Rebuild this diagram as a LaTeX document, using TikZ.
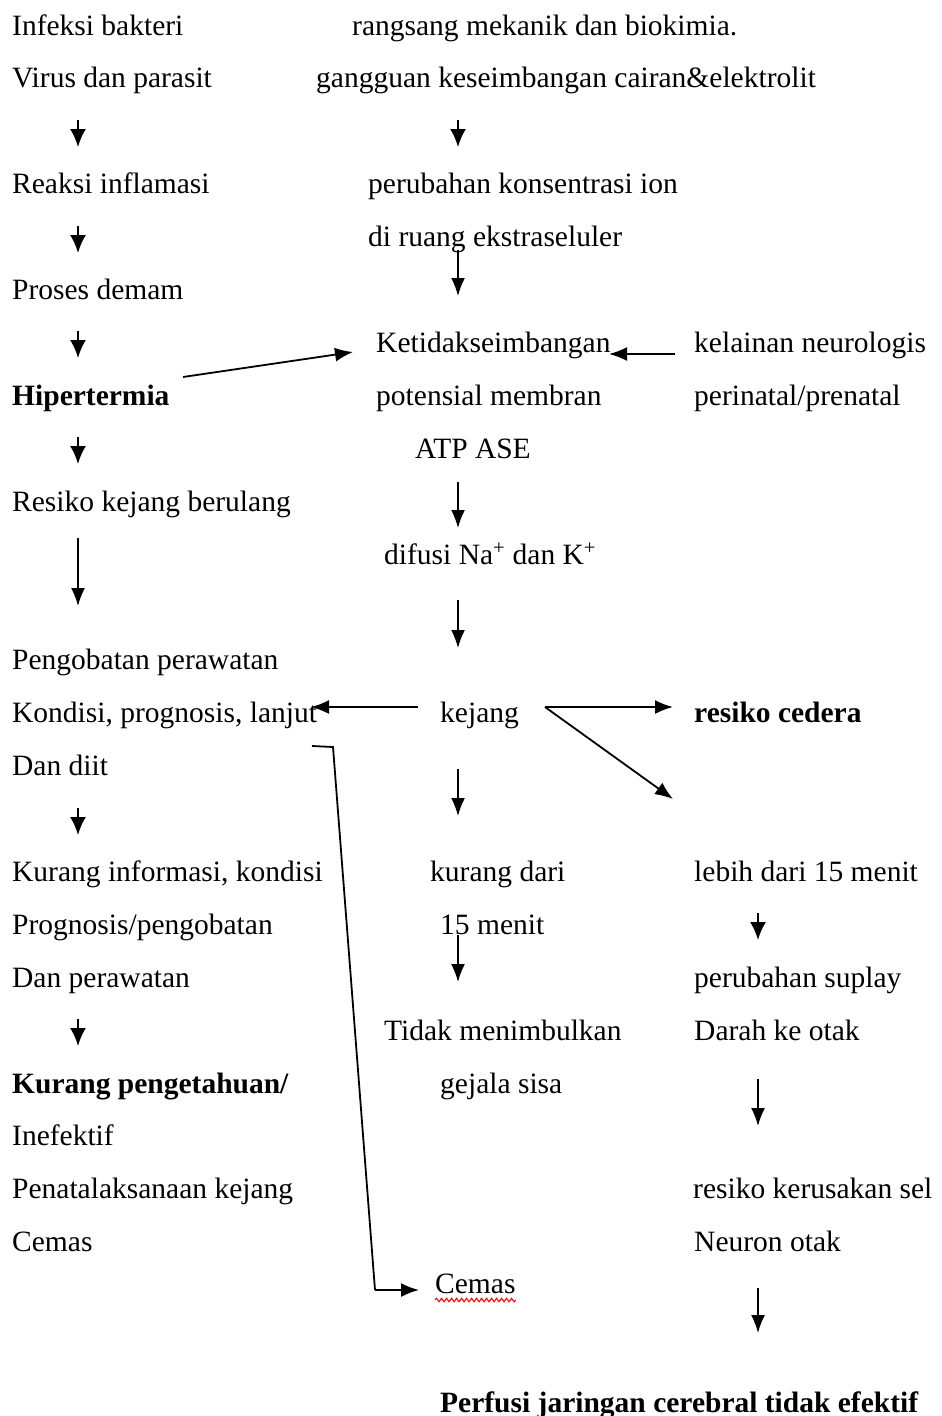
\documentclass[tikz,border=0pt]{standalone}
\usepackage{fontspec}
\setmainfont{Liberation Serif}
\usetikzlibrary{arrows.meta,decorations.pathmorphing}
\newcommand\fsz{\fontsize{29.5}{35}\selectfont}
\tikzset{
  txt/.style={anchor=base west, inner sep=0pt, font=\fsz},
  btxt/.style={anchor=base west, inner sep=0pt, font=\fsz\bfseries},
  arr/.style={line width=1.8pt, -{Latex[length=18pt,width=14pt]}},
  sarr/.style={line width=2.2pt, -{Latex[length=18pt,width=16pt]}},
  conn/.style={line width=1.8pt},
  wavy/.style={draw=red, line width=1pt, decorate, decoration={snake, amplitude=1.8pt, segment length=5pt}}
}
\begin{document}
\begin{tikzpicture}[x=1pt,y=-1pt]
\useasboundingbox (0,0) rectangle (942,1416);
% ---------- left column ----------
\node[txt]  (infeksi) at (12,35)    {Infeksi bakteri};
\node[txt]  (virus)   at (12,87.9)  {Virus dan parasit};
\node[txt]  (reaksi)  at (12,193.7) {Reaksi inflamasi};
\node[txt]  (proses)  at (12,299.5) {Proses demam};
\node[btxt] (hiper)   at (12,405.3) {Hipertermia};
\node[txt]  (resiko)  at (12,511.1) {Resiko kejang berulang};
\node[txt]  (pengob)  at (12,669.8) {Pengobatan perawatan};
\node[txt]  (kondisi) at (12,722.7) {Kondisi, prognosis, lanjut};
\node[txt]  (diit)    at (12,775.6) {Dan diit};
\node[txt]  (kurinfo) at (12,881.4) {Kurang informasi, kondisi};
\node[txt]  (progn)   at (12,934.3) {Prognosis/pengobatan};
\node[txt]  (danper)  at (12,987.2) {Dan perawatan};
\node[btxt] (kurpeng) at (12,1093)  {Kurang pengetahuan/};
\node[txt]  (inef)    at (12,1145.9){Inefektif};
\node[txt]  (penat)   at (12,1198.8){Penatalaksanaan kejang};
\node[txt]  (cemasL)  at (12,1251.7){Cemas};
% ---------- middle column ----------
\node[txt]  (rangsang)  at (352,35)    {rangsang mekanik dan biokimia.};
\node[txt]  (gangguan)  at (316,87.9)  {gangguan keseimbangan cairan\&elektrolit};
\node[txt]  (perubahan) at (368,193.7) {perubahan konsentrasi ion};
\node[txt]  (ruang)     at (368,246.6) {di ruang ekstraseluler};
\node[txt]  (ketidak)   at (376,352.4) {Ketidakseimbangan};
\node[txt]  (potensial) at (376,405.3) {potensial membran};
\node[txt]  (atp)       at (415,458.2) {ATP ASE};
\node[txt]  (difusi)    at (384,564)   {difusi Na\textsuperscript{+} dan K\textsuperscript{+}};
\node[txt]  (kejang)    at (440,722.7) {kejang};
\node[txt]  (kurdari)   at (430,881.4) {kurang dari};
\node[txt]  (menit)     at (440,934.3) {15 menit};
\node[txt]  (tidak)     at (384,1040.1){Tidak menimbulkan};
\node[txt]  (gejala)    at (440,1093)  {gejala sisa};
\node[txt]  (cemasM)    at (435,1293)  {Cemas};
\node[btxt] (perfusi)   at (440,1412)  {Perfusi jaringan cerebral tidak efektif};
% ---------- right column ----------
\node[txt]  (kelainan)  at (694,352.4) {kelainan neurologis};
\node[txt]  (perinatal) at (694,405.3) {perinatal/prenatal};
\node[btxt] (cedera)    at (694,722.7) {resiko cedera};
\node[txt]  (lebih)     at (694,881.4) {lebih dari 15 menit};
\node[txt]  (suplay)    at (694,987.2) {perubahan suplay};
\node[txt]  (darah)     at (694,1040.1){Darah ke otak};
\node[txt]  (kerusakan) at (693,1198.8){resiko kerusakan sel};
\node[txt]  (neuron)    at (694,1251.7){Neuron otak};
% ---------- connector end points ----------
\coordinate (l1a) at (78,120);  \coordinate (l1b) at (78,147);
\coordinate (l2a) at (78,226);  \coordinate (l2b) at (78,253);
\coordinate (l3a) at (78,331);  \coordinate (l3b) at (78,358);
\coordinate (l4a) at (78,437);  \coordinate (l4b) at (78,464);
\coordinate (l5a) at (78,538);  \coordinate (l5b) at (78,606);
\coordinate (l6a) at (78,808);  \coordinate (l6b) at (78,835);
\coordinate (l7a) at (78,1019); \coordinate (l7b) at (78,1046);
\coordinate (m1a) at (458,120); \coordinate (m1b) at (458,147);
\coordinate (m2a) at (458,250); \coordinate (m2b) at (458,296);
\coordinate (m3a) at (458,482); \coordinate (m3b) at (458,528);
\coordinate (m4a) at (458,600); \coordinate (m4b) at (458,648);
\coordinate (m5a) at (458,769); \coordinate (m5b) at (458,816);
\coordinate (m6a) at (458,935); \coordinate (m6b) at (458,982);
\coordinate (r1a) at (758,913); \coordinate (r1b) at (758,940);
\coordinate (r2a) at (758,1079);\coordinate (r2b) at (758,1126);
\coordinate (r3a) at (758,1288);\coordinate (r3b) at (758,1333);
\coordinate (hA) at (183,377);  \coordinate (hB) at (353,352);
\coordinate (kA) at (675,354);  \coordinate (kB) at (609,354);
\coordinate (jL) at (418,707);  \coordinate (jLe) at (311,707);
\coordinate (jR) at (545,707);  \coordinate (jRe) at (673,707);
\coordinate (jD) at (673,799);
\coordinate (c1) at (312,746);  \coordinate (c2) at (333,747);
\coordinate (c3) at (375,1290); \coordinate (c4) at (419,1290);
% ---------- connectors ----------
\foreach \a/\b in {l1a/l1b,l2a/l2b,l3a/l3b,l4a/l4b,l6a/l6b,l7a/l7b,m1a/m1b,r1a/r1b}
  \draw[sarr] (\a) -- (\b);
\foreach \a/\b in {l5a/l5b,m2a/m2b,m3a/m3b,m4a/m4b,m5a/m5b,m6a/m6b,r2a/r2b,r3a/r3b}
  \draw[arr] (\a) -- (\b);
\draw[arr] (hA) -- (hB);
\draw[arr] (kA) -- (kB);
\draw[arr] (jL) -- (jLe);
\draw[arr] (jR) -- (jRe);
\draw[arr] (jR) -- (jD);
\draw[conn] (c1) -- (c2) -- (c3);
\draw[arr] (c3) -- (c4);
% spell-check underline
\draw[wavy] ([yshift=-7pt]cemasM.base west) -- ([yshift=-7pt]cemasM.base east);
\end{tikzpicture}
\end{document}
